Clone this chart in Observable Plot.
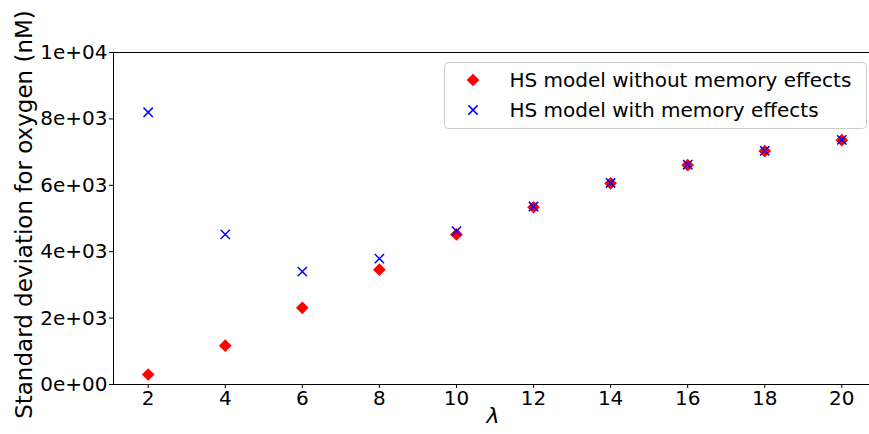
<!DOCTYPE html>
<html><head><meta charset="utf-8">
<script src="https://cdn.jsdelivr.net/npm/d3@7"></script>
<script src="https://cdn.jsdelivr.net/npm/@observablehq/plot@0.6"></script>
<style>
body{margin:0;background:#fff;font-family:"DejaVu Sans",sans-serif;}
#wrap{position:relative;width:869px;height:434px;overflow:hidden;}
#wrap svg.overlay{position:absolute;left:0;top:0;}
</style></head><body><div id="wrap"></div>
<script>
const lambdas = [2, 4, 6, 8, 10, 12, 14, 16, 18, 20];
const withoutMemory = [300, 1170, 2310, 3460, 4520, 5340, 6060, 6610, 7030, 7360];
const withMemory = [8200, 4520, 3400, 3790, 4620, 5360, 6070, 6620, 7040, 7370];
const seriesNames = ["HS model without memory effects", "HS model with memory effects"];
const xTicks = [2, 4, 6, 8, 10, 12, 14, 16, 18, 20];
const yTicks = [0, 2000, 4000, 6000, 8000, 10000];
const yTickLabels = ["0e+00", "2e+03", "4e+03", "6e+03", "8e+03", "1e+04"];
const xLabel = "λ";
const yLabel = "Standard deviation for oxygen (nM)";

const rows = lambdas.map((l, i) => ({lambda: l, without: withoutMemory[i], with: withMemory[i]}));
const diamondR = 5.7, timesR = 4.3;

const chart = Plot.plot({
  width: 869, height: 434,
  marginLeft: 113, marginRight: -7, marginTop: 52, marginBottom: 50,
  style: {fontFamily: "DejaVu Sans", fontSize: "20px", color: "black", background: "white"},
  x: {domain: [1.1, 20.9]},
  y: {domain: [0, 10000]},
  marks: [
    Plot.frame({stroke: "black", strokeWidth: 1}),
    Plot.axisX({ticks: xTicks, tickSize: 4, tickPadding: 2, label: null, fontSize: 20}),
    Plot.axisY({ticks: yTicks, tickSize: 4, tickPadding: 2, label: null, fontSize: 20,
      tickFormat: d => yTickLabels[yTicks.indexOf(d)]}),
    Plot.dot(rows, {x: "lambda", y: "without", symbol: "diamond2", r: diamondR, fill: "red", stroke: "none"}),
    Plot.dot(rows, {x: "lambda", y: "with", symbol: "times", r: timesR, stroke: "blue", strokeWidth: 1.5, fill: "none"}),
    Plot.text([xLabel], {frameAnchor: "bottom", dx: -2, dy: 38, fontStyle: "italic", fontSize: 22, fill: "black"}),
    Plot.text([yLabel], {frameAnchor: "left", textAnchor: "middle", lineAnchor: "middle", rotate: -90, dx: -89, dy: -4, fontSize: 23, fill: "black"})
  ]
});
const wrap = document.getElementById("wrap");
wrap.appendChild(chart);

// legend overlay
const svg = d3.select(wrap).append("svg").attr("class", "overlay").attr("width", 869).attr("height", 434);
svg.append("rect").attr("x", 444.5).attr("y", 62.5).attr("width", 422).attr("height", 66).attr("rx", 4)
  .attr("fill", "white").attr("fill-opacity", 0.8).attr("stroke", "#cccccc").attr("stroke-width", 1);
const rowY = [80, 110];
svg.append("path").attr("d", d3.symbol(d3.symbolDiamond2, Math.PI * diamondR * diamondR)())
  .attr("transform", `translate(473,${rowY[0]})`).attr("fill", "red");
svg.append("path").attr("d", d3.symbol(d3.symbolTimes, Math.PI * timesR * timesR)())
  .attr("transform", `translate(473,${rowY[1]})`).attr("fill", "none").attr("stroke", "blue").attr("stroke-width", 1.5);
seriesNames.forEach((name, i) => {
  svg.append("text").attr("x", 509.5).attr("y", rowY[i] + 6.7)
    .attr("font-family", "DejaVu Sans").attr("font-size", 20).attr("fill", "black").text(name);
});
</script></body></html>
